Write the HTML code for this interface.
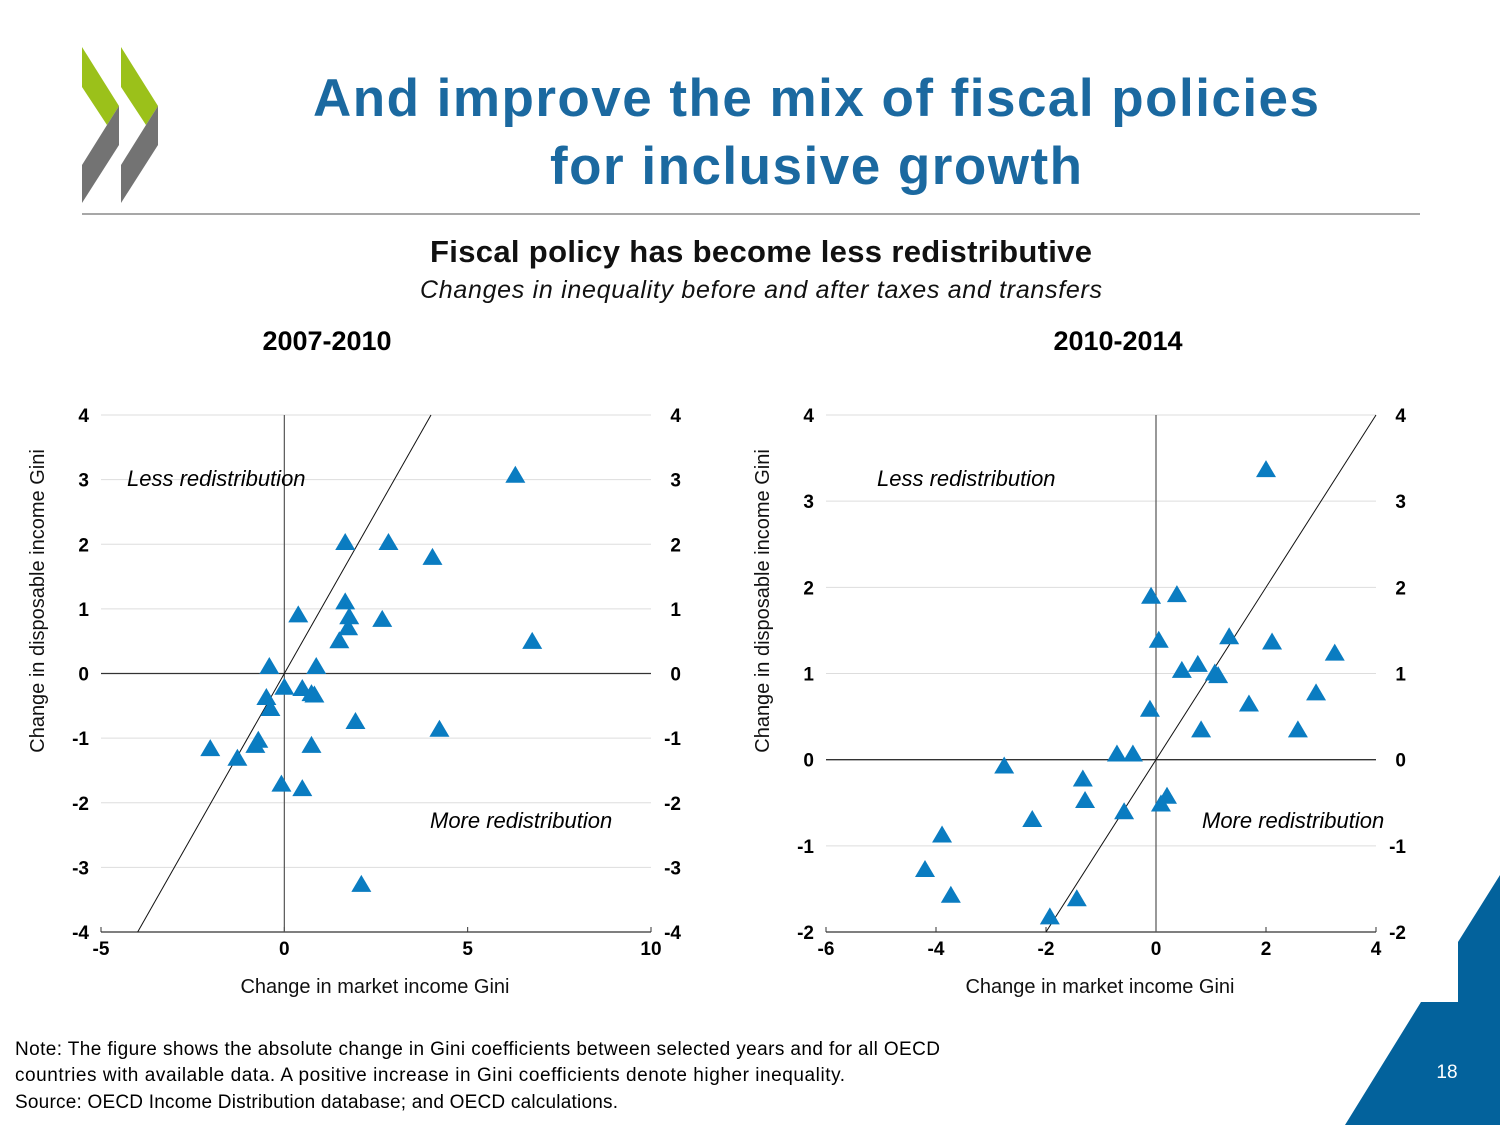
<!DOCTYPE html>
<html><head><meta charset="utf-8"><style>
html,body{margin:0;padding:0;background:#fff;}
svg{display:block;font-family:"Liberation Sans",Arial,sans-serif;}
</style></head><body>
<svg id="root" width="1500" height="1125" viewBox="0 0 1500 1125" xmlns="http://www.w3.org/2000/svg">
<g>
  <polygon points="82,47 119,106 107,125 82,87" fill="#9bc11a"/>
  <polygon points="119,106 119,145 82,203 82,165 107,125" fill="#737373"/>
  <polygon points="121,47 158,106 146,125 121,87" fill="#9bc11a"/>
  <polygon points="158,106 158,145 121,203 121,165 146,125" fill="#737373"/>
</g>
<text x="816" y="116" text-anchor="middle" font-size="53" font-weight="bold" fill="#1b69a0" textLength="1006">And improve the mix of fiscal policies</text>
<text x="816" y="184" text-anchor="middle" font-size="53" font-weight="bold" fill="#1b69a0" textLength="532">for inclusive growth</text>
<line x1="82" y1="214" x2="1420" y2="214" stroke="#8a8a8a" stroke-width="1.5"/>
<text x="761" y="262" text-anchor="middle" font-size="31" font-weight="bold" fill="#111" textLength="662">Fiscal policy has become less redistributive</text>
<text x="761" y="298" text-anchor="middle" font-size="25" font-style="italic" fill="#111" textLength="682">Changes in inequality before and after taxes and transfers</text>
<text x="327" y="350" text-anchor="middle" font-size="27" font-weight="bold" fill="#000">2007-2010</text>
<text x="1118" y="350" text-anchor="middle" font-size="27" font-weight="bold" fill="#000">2010-2014</text>
<g id="left"></g>
<g id="right"></g>
<text x="15" y="1055" font-size="19" fill="#000" textLength="925">Note: The figure shows the absolute change in Gini coefficients between selected years and for all OECD</text>
<text x="15" y="1081" font-size="19" fill="#000" textLength="830">countries with available data. A positive increase in Gini coefficients denote higher inequality.</text>
<text x="15" y="1108" font-size="19" fill="#000" textLength="603">Source: OECD Income Distribution database; and OECD calculations.</text>
<polygon points="1500,875 1458,942 1458,1002 1421,1002 1345,1125 1500,1125" fill="#03629c"/>
<text x="1447" y="1078" text-anchor="middle" font-size="19" fill="#fff">18</text>
</svg>
<script>
const leftX = [6.3,1.66,2.84,4.04,1.66,1.77,1.74,2.67,1.5,0.38,6.76,-0.41,0.87,0,0.49,0.74,0.82,-0.49,-0.38,1.94,4.23,-0.71,-0.79,0.74,-2.02,-1.28,-0.08,0.49,2.1];
const leftY = [3.06,2.02,2.02,1.79,1.1,0.87,0.7,0.83,0.5,0.9,0.49,0.1,0.1,-0.22,-0.24,-0.32,-0.34,-0.38,-0.55,-0.75,-0.87,-1.04,-1.12,-1.12,-1.17,-1.32,-1.72,-1.79,-3.27];
const rightX = [2.0,-0.09,0.38,0.05,1.33,2.11,3.25,0.76,0.47,1.07,1.13,-0.11,1.69,2.91,0.82,2.58,-0.71,-0.42,-2.76,-1.33,-1.29,-2.25,-0.58,0.2,0.09,-3.89,-4.2,-3.73,-1.44,-1.93];
const rightY = [3.36,1.89,1.91,1.38,1.42,1.36,1.23,1.1,1.03,1.0,0.97,0.58,0.64,0.77,0.34,0.34,0.06,0.06,-0.08,-0.23,-0.48,-0.7,-0.61,-0.43,-0.52,-0.88,-1.28,-1.58,-1.62,-1.83];
const leftXTicks = [-5,0,5,10];
const leftYTicks = [-4,-3,-2,-1,0,1,2,3,4];
const rightXTicks = [-6,-4,-2,0,2,4];
const rightYTicks = [-2,-1,0,1,2,3,4];
const NS='http://www.w3.org/2000/svg';
function mk(parent,tag,attrs,text){const e=document.createElementNS(NS,tag);for(const k in attrs)e.setAttribute(k,attrs[k]);if(text!==undefined)e.textContent=text;parent.appendChild(e);return e;}
function panel(gid,side,xs,ys,xt,yt,x0,x1,y0,y1,px0,px1,py0,py1,lessPos,morePos,ylabX,xlabX){
  const g=document.getElementById(gid);
  const sx=v=>px0+(v-x0)/(x1-x0)*(px1-px0);
  const sy=v=>py0+(v-y0)/(y1-y0)*(py1-py0);
  yt.forEach(t=>{
    if(t!==y0){const l=mk(g,'line',{x1:px0,x2:px1,y1:sy(t),y2:sy(t),stroke:t===0?'#333':'#ddd','stroke-width':t===0?1.3:1});
    
    }
    const a=mk(g,'text',{x:px0-12,y:sy(t)+7,'text-anchor':'end','font-size':19,'font-weight':'bold'},String(t));
    
    
    const b=mk(g,'text',{x:px1+30,y:sy(t)+7,'text-anchor':'end','font-size':19,'font-weight':'bold'},String(t));
    
    
  });
  const ax=mk(g,'line',{x1:px0,x2:px1,y1:py0,y2:py0,stroke:'#333','stroke-width':1.3});
  
  
  xt.forEach(t=>{
    const tk=mk(g,'line',{x1:sx(t),x2:sx(t),y1:py0,y2:py0-5,stroke:'#333'});
    
    
    const a=mk(g,'text',{x:sx(t),y:py0+23,'text-anchor':'middle','font-size':19,'font-weight':'bold'},String(t));
    
    
  });
  const v=mk(g,'line',{x1:sx(0),x2:sx(0),y1:py1,y2:py0,stroke:'#555','stroke-width':1.2});
  
  
  const lo=Math.max(x0,y0),hi=Math.min(x1,y1);
  const d=mk(g,'line',{x1:sx(lo),y1:sy(lo),x2:sx(hi),y2:sy(hi),stroke:'#111','stroke-width':1});
  
  
  const l1=mk(g,'text',{x:lessPos[0],y:lessPos[1],'font-size':22,'font-style':'italic'},'Less redistribution');
  
  
  const l2=mk(g,'text',{x:morePos[0],y:morePos[1],'font-size':22,'font-style':'italic'},'More redistribution');
  
  
  xs.forEach((xv,i)=>{
    const cx=sx(xv),cy=sy(ys[i]);
    const p=mk(g,'polygon',{points:`${cx-10},${cy+7} ${cx+10},${cy+7} ${cx},${cy-10}`,fill:'#0a7cc1'});
    
    
  });
  const yl=mk(g,'text',{transform:`translate(${ylabX},601) rotate(-90)`,'text-anchor':'middle','font-size':20,fill:'#111'},'Change in disposable income Gini');
  
  
  const xl=mk(g,'text',{x:xlabX,y:993,'text-anchor':'middle','font-size':20,fill:'#111'},'Change in market income Gini');
  
  
}
panel('left','left',leftX,leftY,leftXTicks,leftYTicks,-5,10,-4,4,101,651,932,415,[127,486],[430,828],44,375);
panel('right','right',rightX,rightY,rightXTicks,rightYTicks,-6,4,-2,4,826,1376,932,415,[877,486],[1202,828],769,1100);
</script>
</body></html>
